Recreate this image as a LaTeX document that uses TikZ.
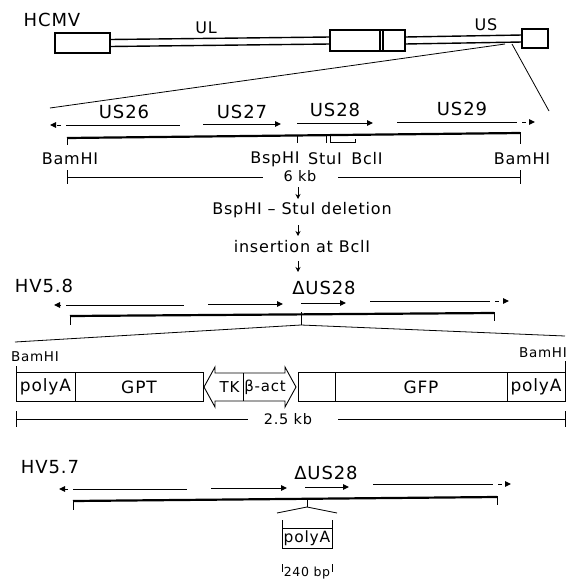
\documentclass[tikz,border=0pt]{standalone}
\usepackage{fontspec}
\setmainfont{DejaVu Sans}[LetterSpace=5]
\usetikzlibrary{arrows.meta}

\tikzset{
    gm genome/.style={draw, line width=1.5pt, inner sep=0pt},
    gm box/.style={draw, line width=0.9pt, inner sep=0pt},
    gm text/.style={inner sep=0pt, font=\fontsize{17}{17}\selectfont},
    gm line/.style={line width=1pt},
    gm thin/.style={line width=0.8pt},
    gm map/.style={line width=2.2pt},
    gm gene/.style={line width=1pt, -{Triangle[length=6pt,width=5.5pt]}},
    gm tail/.style={gm gene, dash pattern=on 4pt off 5pt},
    gm step/.style={line width=0.9pt, -{Stealth[length=5pt,width=5pt]}},
    gm title/.style={font=\fontsize{18}{18}\selectfont},
    gm site/.style={font=\fontsize{16}{16}\selectfont},
    gm size/.style={font=\fontsize{14.5}{14.5}\selectfont, inner sep=0pt},
    gm small/.style={font=\fontsize{13.5}{13.5}\selectfont},
}

\begin{document}
\begin{tikzpicture}[x=1pt, y=-1pt]
    \useasboundingbox (0,0) rectangle (577,582);

    % HCMV genome
    \node[gm title] (hcmv) at (52,20) {HCMV};
    \node[gm genome, minimum width=55, minimum height=20] (trl) at (82.5,43) {};
    \node[gm genome, minimum width=75, minimum height=21] (irl) at (367.5,40.5) {};
    \node[gm genome, minimum width=26, minimum height=19] (trs) at (535,38.5) {};
    \draw[gm genome] (380,30) -- (380,51) (383,30) -- (383,51);
    \draw[gm line, line width=1.4pt] (110,39.5) -- (330,37) (110,46.5) -- (330,44);
    \draw[gm line, line width=1.4pt] (405,37) -- (522,35) (405,44) -- (522,42);
    \node[gm site] (ul) at (206,28) {UL};
    \node[gm site] (us) at (486,25) {US};
    % zoom into US
    \draw[gm thin] (505,44) -- (50,108);
    \draw[gm thin] (512,44) -- (549,111);

    % Wild type map
    \node[gm title] (n26) at (124,112) {US26};
    \node[gm title] (n27) at (242,112) {US27};
    \node[gm title] (n28) at (335,110) {US28};
    \node[gm title] (n29) at (462,109) {US29};
    \coordinate (w26a) at (70,125);  \coordinate (w26b) at (180,125);
    \coordinate (w26t) at (50,125);
    \coordinate (w27a) at (203,124); \coordinate (w27b) at (281,124);
    \coordinate (w28a) at (297,123); \coordinate (w28b) at (373,123);
    \coordinate (w29a) at (397,122); \coordinate (w29b) at (513,122);
    \coordinate (w29t) at (535,122);
    \draw[gm line] (w26a) -- (w26b);
    \draw[gm tail] (w26a) -- (w26t);
    \draw[gm gene] (w27a) -- (w27b);
    \draw[gm gene] (w28a) -- (w28b);
    \draw[gm line] (w29a) -- (w29b);
    \draw[gm tail] (w29b) -- (w29t);
    \draw[gm map] (67,138) -- (520,133);
    \draw[gm line] (67,137) -- (67,145) (520,132) -- (520,144);
    \draw[gm line] (297,135) -- (297,143);
    \draw[gm line] (326,135) -- (326,143) (330,135) -- (330,142) -- (355,142) -- (355,139);
    \node[gm site] (bam1) at (70,159) {BamHI};
    \node[gm site] (bsp) at (275,159) {BspHI};
    \node[gm site] (stu) at (325,159) {StuI};
    \node[gm site] (bcl) at (367,159) {BclI};
    \node[gm site] (bam2) at (522,159) {BamHI};
    % 6 kb
    \draw[gm line] (67,177) -- (263,177) (338,177) -- (520,177);
    \draw[gm line] (67,170) -- (67,184) (520,170) -- (520,184);
    \node[gm size] (kb6) at (300,176) {6 kb};

    % Steps
    \coordinate (s1a) at (298,187); \coordinate (s1b) at (298,199);
    \coordinate (s2a) at (298,225); \coordinate (s2b) at (298,236);
    \coordinate (s3a) at (298,261); \coordinate (s3b) at (298,272);
    \draw[gm step] (s1a) -- (s1b);
    \node[gm site] (del) at (302,210) {BspHI -- StuI deletion};
    \draw[gm step] (s2a) -- (s2b);
    \node[gm site] (ins) at (302,247) {insertion at BclI};
    \draw[gm step] (s3a) -- (s3b);

    % HV5.8
    \node[gm title] (hv58) at (44,286) {HV5.8};
    \node[gm title] (d58) at (324,288) {ΔUS28};
    \coordinate (a1a) at (70,305);  \coordinate (a1b) at (184,305);
    \coordinate (a1t) at (54,305);
    \coordinate (a2a) at (208,304); \coordinate (a2b) at (283,304);
    \coordinate (a3a) at (301,303); \coordinate (a3b) at (346,303);
    \coordinate (a4a) at (370,301); \coordinate (a4b) at (486,301);
    \coordinate (a4t) at (509,301);
    \draw[gm line] (a1a) -- (a1b);
    \draw[gm tail] (a1a) -- (a1t);
    \draw[gm gene] (a2a) -- (a2b);
    \draw[gm gene] (a3a) -- (a3b);
    \draw[gm line] (a4a) -- (a4b);
    \draw[gm tail] (a4b) -- (a4t);
    \draw[gm map] (70,316) -- (494,313);
    \draw[gm line] (70,315) -- (70,325) (494,312) -- (494,321);
    \coordinate (ins58) at (301,325);
    \draw[gm thin] (301,312) -- (ins58);
    \draw[gm thin] (ins58) -- (15,342);
    \draw[gm thin] (ins58) -- (565,336);

    % Insert cassette
    \node[gm small] (bam3) at (35,357) {BamHI};
    \node[gm small] (bam4) at (543,353) {BamHI};
    \draw[gm line] (16,366) -- (16,373) (565,361) -- (565,372);
    \node[gm box, gm text, minimum width=59, minimum height=29] (pa1) at (45.5,387) {polyA};
    \node[gm box, gm text, minimum width=128, minimum height=29] (gpt) at (139,387) {GPT};
    \draw[gm box] (204,387) -- (215,367) -- (215,373) -- (285,373) -- (285,367)
        -- (296,387) -- (285,407) -- (285,401) -- (215,401) -- (215,407) -- cycle;
    \draw[gm box] (243,373) -- (243,401);
    \node[gm text, font=\fontsize{15}{15}\selectfont] (tk) at (229.5,387) {TK};
    \node[gm text, font=\fontsize{15}{15}\selectfont] (bact) at (265,387) {β-act};
    \node[gm box, minimum width=37, minimum height=29] (blank) at (316.5,387) {};
    \node[gm box, gm text, minimum width=172, minimum height=29] (gfp) at (421,387) {GFP};
    \node[gm box, gm text, minimum width=58, minimum height=29] (pa2) at (536,387) {polyA};
    % 2.5 kb
    \draw[gm line] (16,419) -- (248,419) (338,419) -- (565,419);
    \draw[gm line] (16,411) -- (16,427) (565,411) -- (565,427);
    \node[gm size] (kb25) at (288,419) {2.5 kb};

    % HV5.7
    \node[gm title] (hv57) at (50,467) {HV5.7};
    \node[gm title] (d57) at (326,473) {ΔUS28};
    \coordinate (b1a) at (77,489);  \coordinate (b1b) at (187,489);
    \coordinate (b1t) at (59,489);
    \coordinate (b2a) at (211,488); \coordinate (b2b) at (287,488);
    \coordinate (b3a) at (305,487); \coordinate (b3b) at (349,487);
    \coordinate (b4a) at (373,484); \coordinate (b4b) at (489,484);
    \coordinate (b4t) at (511,484);
    \draw[gm line] (b1a) -- (b1b);
    \draw[gm tail] (b1a) -- (b1t);
    \draw[gm gene] (b2a) -- (b2b);
    \draw[gm gene] (b3a) -- (b3b);
    \draw[gm line] (b4a) -- (b4b);
    \draw[gm tail] (b4b) -- (b4t);
    \draw[gm map] (73,501) -- (497,497);
    \draw[gm line] (73,500) -- (73,510) (497,496) -- (497,505);
    \coordinate (ins57) at (307,507);
    \draw[gm thin] (307,498) -- (ins57);
    \draw[gm thin] (ins57) -- (277,513);
    \draw[gm thin] (ins57) -- (337,513);
    \draw[gm line] (282,520) -- (282,528) (332,520) -- (332,528);
    \node[gm box, gm text, font=\fontsize{15.5}{15.5}\selectfont, minimum width=50, minimum height=20] (pa3) at (307,538) {polyA};
    \draw[gm line] (282,564) -- (282,572) (332,564) -- (332,572);
    \node[gm small, font=\fontsize{12.5}{12.5}\selectfont] (bp) at (307,573) {240 bp};
\end{tikzpicture}
\end{document}
